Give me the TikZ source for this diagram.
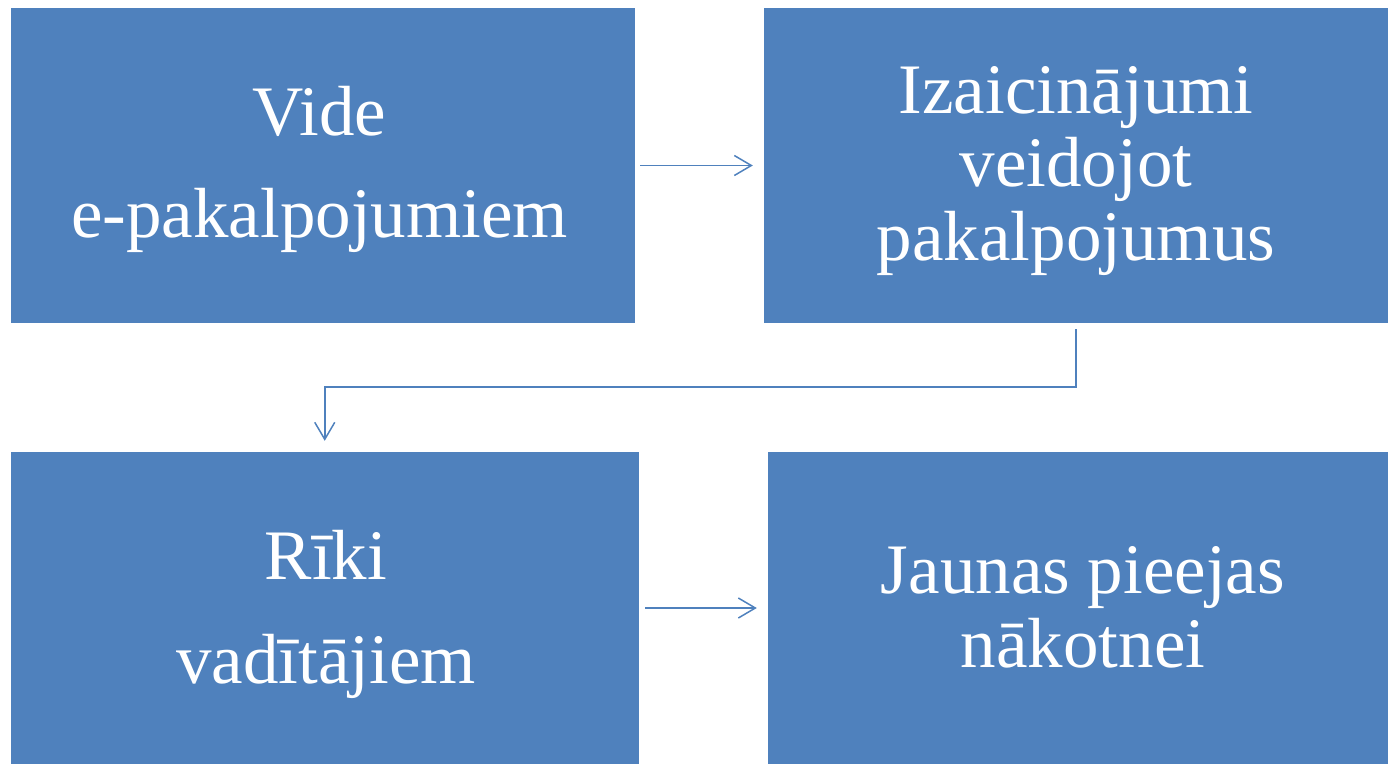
\documentclass[tikz,border=0pt]{standalone}
\usepackage{fontspec}
\setmainfont{Liberation Serif}
\usetikzlibrary{arrows.meta}
\definecolor{boxblue}{HTML}{4F81BD}
\newcommand{\stacklines}[2]{\vtop{\baselineskip=#1\lineskiplimit=-200pt\lineskip=0pt\halign{\hfil##\hfil\cr#2\crcr}}}
\begin{document}
\begin{tikzpicture}[x=1pt,y=-1pt,
  box/.style={fill=boxblue, draw=none, inner sep=0pt, rectangle},
  txt/.style={text=white, font=\fontsize{71}{71}\selectfont, inner sep=0pt, anchor=base},
  conn/.style={draw=boxblue, line width=1.5pt, -{Straight Barb[length=17pt,width=20pt]}}]
\useasboundingbox (0,0) rectangle (1388,764);
\node[box, minimum width=624.5pt, minimum height=315pt] (b1) at (322.75,165.5) {};
\node[box, minimum width=624pt, minimum height=315pt] (b2) at (1076,165.5) {};
\node[box, minimum width=628.5pt, minimum height=312pt] (b3) at (324.75,608) {};
\node[box, minimum width=620.5pt, minimum height=312pt] (b4) at (1077.75,608) {};
\node[txt] (t1) at (319.5,135) {\stacklines{102pt}{Vide\cr e-pakalpojumiem}};
\node[txt] (t2) at (1076,113) {\stacklines{73.5pt}{Izaicinājumi\cr veidojot\cr pakalpojumus}};
\node[txt] (t3) at (326,579) {\stacklines{104pt}{Rīki\cr vadītājiem}};
\node[txt] (t4) at (1083,593) {\stacklines{74pt}{Jaunas pieejas\cr nākotnei}};
\draw[conn] ([xshift=5pt]b1.east) -- ([xshift=-11pt]b2.west);
\draw[conn] ([yshift=-6pt]b2.south) -- ++(0,58) -| ([yshift=11pt]b3.north);
\draw[conn] ([xshift=6pt]b3.east) -- ([xshift=-10.5pt]b4.west);
\end{tikzpicture}
\end{document}
